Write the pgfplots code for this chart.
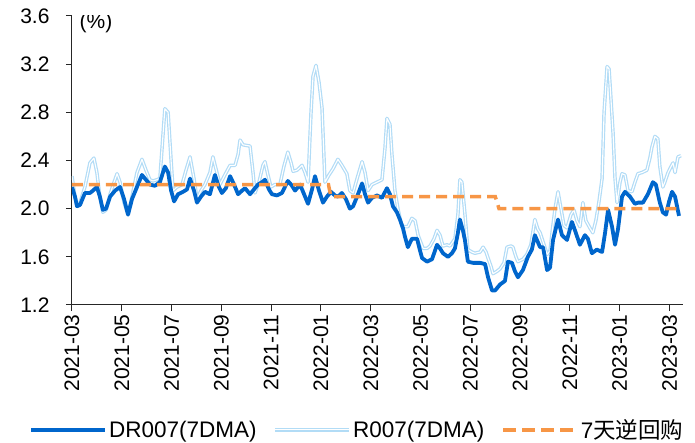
\documentclass[border=0pt]{standalone}
\usepackage{fontspec}
\setmainfont{Liberation Sans}
\newfontfamily\cjk{Noto Sans CJK SC}
\usepackage{pgfplots}
\usepackage{pgfplotstable}
\pgfplotsset{compat=1.18}
\definecolor{drblue}{RGB}{0,102,204}
\definecolor{rblue}{RGB}{178,220,246}
\definecolor{rrorange}{RGB}{247,150,70}

\pgfplotstableread{
x y
0.00 2.18
0.12 2.10
0.20 2.02
0.32 2.03
0.52 2.13
0.72 2.13
0.84 2.15
1.00 2.18
1.12 2.10
1.24 1.99
1.37 2.00
1.53 2.10
1.73 2.15
1.93 2.18
2.09 2.08
2.25 1.95
2.41 2.08
2.61 2.18
2.81 2.28
2.97 2.24
3.13 2.20
3.33 2.19
3.53 2.22
3.73 2.35
3.86 2.30
3.98 2.15
4.10 2.06
4.26 2.12
4.46 2.14
4.62 2.16
4.74 2.25
4.90 2.15
5.02 2.05
5.18 2.10
5.34 2.14
5.54 2.12
5.74 2.28
5.90 2.18
6.02 2.13
6.18 2.17
6.35 2.27
6.51 2.20
6.67 2.12
6.83 2.15
6.95 2.17
7.15 2.12
7.31 2.16
7.47 2.20
7.63 2.22
7.75 2.24
7.91 2.16
8.03 2.12
8.23 2.11
8.43 2.13
8.55 2.18
8.67 2.23
8.80 2.20
8.96 2.15
9.16 2.20
9.32 2.12
9.48 2.04
9.64 2.16
9.76 2.27
9.92 2.15
10.08 2.05
10.24 2.10
10.40 2.14
10.56 2.11
10.68 2.10
10.84 2.13
11.00 2.08
11.16 2.00
11.29 2.02
11.45 2.10
11.65 2.21
11.77 2.12
11.89 2.05
12.05 2.09
12.25 2.11
12.45 2.09
12.65 2.17
12.77 2.12
12.89 2.02
13.05 1.97
13.17 1.91
13.29 1.84
13.37 1.77
13.49 1.68
13.65 1.75
13.86 1.75
13.98 1.65
14.06 1.59
14.26 1.56
14.46 1.58
14.66 1.70
14.78 1.67
14.90 1.63
15.10 1.60
15.26 1.63
15.38 1.67
15.50 1.80
15.58 1.91
15.70 1.82
15.78 1.74
15.90 1.56
16.10 1.55
16.39 1.55
16.59 1.54
16.71 1.43
16.87 1.32
16.99 1.32
17.19 1.37
17.39 1.40
17.51 1.56
17.67 1.55
17.79 1.48
17.91 1.43
18.11 1.49
18.31 1.60
18.47 1.66
18.59 1.78
18.80 1.68
18.92 1.68
19.08 1.49
19.20 1.51
19.32 1.74
19.52 1.91
19.68 1.78
19.88 1.74
20.08 1.89
20.20 1.82
20.40 1.70
20.60 1.78
20.72 1.75
20.88 1.63
21.08 1.66
21.29 1.64
21.41 1.80
21.53 1.99
21.69 1.85
21.81 1.70
21.93 1.83
22.09 2.10
22.21 2.14
22.41 2.10
22.61 2.04
22.73 2.05
22.93 2.05
23.13 2.12
23.33 2.22
23.45 2.20
23.61 2.05
23.73 1.97
23.86 1.95
23.98 2.06
24.10 2.14
24.22 2.10
24.30 2.02
24.38 1.94
}\drdata

\pgfplotstableread{
x y
0.00 2.27
0.12 2.10
0.20 2.03
0.32 2.05
0.52 2.18
0.72 2.38
0.88 2.42
1.00 2.30
1.12 2.10
1.24 1.97
1.37 1.99
1.53 2.12
1.69 2.22
1.81 2.29
1.93 2.22
2.09 2.05
2.25 1.95
2.41 2.10
2.61 2.30
2.81 2.41
2.97 2.32
3.13 2.24
3.25 2.23
3.41 2.24
3.53 2.25
3.65 2.60
3.73 2.83
3.86 2.80
3.98 2.40
4.06 2.15
4.22 2.18
4.42 2.20
4.58 2.32
4.74 2.43
4.90 2.25
5.02 2.08
5.18 2.15
5.34 2.20
5.54 2.30
5.66 2.43
5.82 2.30
5.94 2.20
6.14 2.28
6.35 2.36
6.55 2.36
6.67 2.45
6.75 2.57
6.87 2.53
7.15 2.52
7.27 2.30
7.35 2.13
7.51 2.22
7.67 2.36
7.75 2.39
7.87 2.28
7.99 2.18
8.15 2.20
8.35 2.20
8.51 2.35
8.67 2.47
8.80 2.38
8.88 2.31
9.04 2.32
9.24 2.36
9.36 2.30
9.48 2.22
9.60 2.80
9.68 3.10
9.80 3.19
9.92 3.05
10.04 2.84
10.16 2.22
10.32 2.28
10.48 2.33
10.68 2.41
10.84 2.36
11.04 2.29
11.16 2.15
11.29 2.13
11.45 2.25
11.65 2.39
11.77 2.30
11.89 2.15
12.05 2.20
12.25 2.22
12.45 2.24
12.57 2.50
12.65 2.75
12.77 2.70
12.85 2.45
12.97 2.15
13.09 2.00
13.25 1.85
13.37 1.85
13.49 1.85
13.65 1.92
13.78 1.90
13.90 1.78
14.10 1.67
14.26 1.67
14.38 1.69
14.54 1.75
14.66 1.82
14.78 1.78
14.90 1.69
15.06 1.70
15.18 1.69
15.38 1.75
15.50 1.95
15.58 2.24
15.66 2.22
15.78 1.96
15.90 1.66
16.06 1.64
16.18 1.63
16.39 1.64
16.51 1.68
16.63 1.64
16.71 1.59
16.83 1.52
16.91 1.46
17.07 1.48
17.19 1.50
17.35 1.55
17.47 1.68
17.63 1.69
17.71 1.68
17.83 1.60
17.91 1.56
18.11 1.58
18.27 1.62
18.43 1.70
18.59 1.91
18.71 1.83
18.80 1.80
18.96 1.70
19.08 1.62
19.20 1.65
19.28 1.80
19.40 2.00
19.52 2.14
19.64 2.00
19.76 1.86
19.88 1.84
20.04 1.95
20.16 1.99
20.28 1.90
20.40 1.85
20.52 2.05
20.64 1.90
20.80 1.84
20.92 1.80
21.04 1.90
21.16 2.05
21.29 2.25
21.37 2.80
21.49 3.18
21.57 3.16
21.65 2.90
21.73 2.63
21.81 2.25
21.89 2.05
22.01 2.22
22.09 2.29
22.21 2.28
22.33 2.15
22.49 2.14
22.61 2.22
22.73 2.29
22.89 2.30
23.09 2.32
23.21 2.42
23.29 2.51
23.41 2.60
23.53 2.58
23.61 2.35
23.73 2.18
23.81 2.22
23.94 2.30
24.06 2.35
24.14 2.38
24.22 2.30
24.34 2.43
24.46 2.44
}\rdata

\pgfplotstableread{
x y
0.00 2.2
10.30 2.2
10.40 2.1
17.00 2.1
17.15 2.0
24.35 2.0
}\rrdata

\begin{document}
\begin{tikzpicture}
\path[use as bounding box] (-72pt,-138pt) rectangle (623pt,305pt);
\begin{axis}[
  at={(0pt,0pt)}, anchor=south west,
  scale only axis, width=611pt, height=289pt,
  xmin=0, xmax=24.54, ymin=1.2, ymax=3.6,
  axis lines=left,
  axis line style={black!85, line width=1pt, -},
  tick style={black!85, line width=1pt},
  tick align=outside, major tick length=6pt,
  xtick={0,2,4,6,8,10,12,14,16,18,20,22,24},
  xticklabels={2021-03,2021-05,2021-07,2021-09,2021-11,2022-01,2022-03,2022-05,2022-07,2022-09,2022-11,2023-01,2023-03},
  ytick={1.2,1.6,2.0,2.4,2.8,3.2,3.6},
  /pgf/number format/assume math mode=true,
  tick label style={font=\fontsize{21}{24}\selectfont, black},
  yticklabel style={xshift=-13pt, /pgf/number format/fixed, /pgf/number format/fixed zerofill, /pgf/number format/precision=1},
  xticklabel style={rotate=90, anchor=east},
  legend style={at={(0.467,-0.432)}, anchor=center, draw=none, fill=none,
    legend columns=3, font=\fontsize{22.5}{26}\selectfont,
    nodes={inner ysep=1pt},
    /tikz/every even column/.append style={column sep=15pt}},
  legend image code/.code={\draw[#1] (0pt,0pt) -- (74pt,0pt);},
]
\addplot[rblue, line width=1.2pt, double=white, double distance=1.1pt, line join=round, forget plot] table[x=x,y=y] {\rdata};
\addplot[drblue, line width=3.8pt, line join=round, forget plot] table[x=x,y=y] {\drdata};
\addplot[rrorange, line width=3.5pt, dash pattern=on 11pt off 6pt, forget plot] table[x=x,y=y] {\rrdata};
\addlegendimage{drblue, line width=3.8pt}
\addlegendentry{DR007(7DMA)}
\addlegendimage{rblue, line width=1.2pt, double=white, double distance=1.1pt}
\addlegendentry{R007(7DMA)}
\addlegendimage{rrorange, line width=3.5pt, dash pattern=on 13pt off 6pt}
\addlegendentry{7{\cjk 天逆回购}}
\node[font=\fontsize{21}{24}\selectfont] at (axis description cs:0,1) [xshift=24pt, yshift=-7pt] {(\%)};
\end{axis}
\end{tikzpicture}
\end{document}
